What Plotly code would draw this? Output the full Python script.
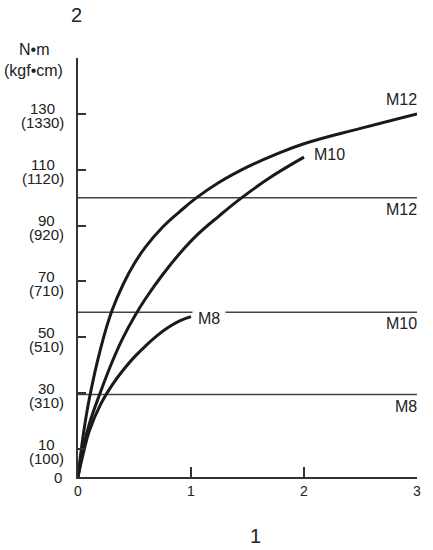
import plotly.graph_objects as go

# curves: x on axis "1", torque (N·m) on axis "2"
m12_x = [0, 0.05, 0.1, 0.2, 0.3, 0.4, 0.5, 0.6, 0.75, 0.9, 1.05, 1.25, 1.5, 1.75, 2.0, 2.5, 3.0]
m12_y = [0, 16, 28, 46, 59.5, 69, 76.5, 82.5, 89.5, 95, 100, 105.5, 111, 115.5, 119.3, 124.8, 130]

m10_x = [0, 0.05, 0.1, 0.2, 0.3, 0.4, 0.5, 0.6, 0.75, 0.9, 1.05, 1.25, 1.45, 1.7, 2.0]
m10_y = [0, 11, 19, 30.5, 41, 50, 57.5, 64, 72.5, 80, 86.5, 93.5, 100, 107.2, 114.5]

m8_x = [0, 0.05, 0.1, 0.2, 0.3, 0.4, 0.5, 0.6, 0.7, 0.8, 0.9, 1.0]
m8_y = [0, 9, 16.5, 26, 32.8, 38.3, 43, 47, 50.6, 53.6, 55.9, 57.4]

# horizontal limit lines
limit_names = ["M8", "M10", "M12"]
limit_vals = [29.5, 59, 100]

# y tick labels (N·m and kgf·cm)
ytick_nm = [10, 30, 50, 70, 90, 110, 130]
ytick_kgf = ["(100)", "(310)", "(510)", "(710)", "(920)", "(1120)", "(1330)"]
xtick_vals = [0, 1, 2, 3]

FONT = "Arial, 'Liberation Sans', sans-serif"
TXT = "#222222"
CURVE = "#1a1a1a"

fig = go.Figure()

# limit lines
for name, val in zip(limit_names, limit_vals):
    fig.add_trace(go.Scatter(
        x=[0, 3], y=[val, val], mode="lines",
        line=dict(color="#444444", width=1.5),
        hoverinfo="skip", showlegend=False
    ))

# torque curves
for xs, ys in [(m12_x, m12_y), (m10_x, m10_y), (m8_x, m8_y)]:
    fig.add_trace(go.Scatter(
        x=xs, y=ys, mode="lines",
        line=dict(color=CURVE, width=3, shape="spline", smoothing=1.2),
        hoverinfo="skip", showlegend=False
    ))

annotations = []

# y labels, two lines each, centred on each other
fs = 15
for v, kgf in zip(ytick_nm, ytick_kgf):
    w = fs * (0.666 + 0.556 * (len(kgf) - 2))
    cx = -(13.5 + w / 2)
    annotations.append(dict(x=0, y=v, xref="paper", yref="y", text=str(v),
                            showarrow=False, xanchor="center", yanchor="middle",
                            xshift=cx, yshift=5, font=dict(size=fs, color=TXT)))
    annotations.append(dict(x=0, y=v, xref="paper", yref="y", text=kgf,
                            showarrow=False, xanchor="center", yanchor="middle",
                            xshift=cx, yshift=-9, font=dict(size=fs, color=TXT)))
annotations.append(dict(x=0, y=0, xref="paper", yref="y", text="0",
                        showarrow=False, xanchor="right", yanchor="middle",
                        xshift=-14, yshift=0, font=dict(size=fs, color=TXT)))

# curve labels
annotations.append(dict(x=m12_x[-1], y=m12_y[-1], text="M12", showarrow=False,
                        xanchor="right", yanchor="middle", xshift=2, yshift=14,
                        font=dict(size=16, color=TXT)))
annotations.append(dict(x=m10_x[-1], y=m10_y[-1], text="M10", showarrow=False,
                        xanchor="left", yanchor="middle", xshift=8, yshift=3,
                        font=dict(size=16, color=TXT)))
annotations.append(dict(x=m8_x[-1], y=m8_y[-1], text="M8", showarrow=False,
                        xanchor="left", yanchor="middle", xshift=1, yshift=-2,
                        bgcolor="white", borderpad=5,
                        font=dict(size=16, color=TXT)))

# limit line labels
for name, val in zip(limit_names, limit_vals):
    annotations.append(dict(x=3, y=val, text=name, showarrow=False,
                            xanchor="right", yanchor="top", xshift=2, yshift=-1,
                            font=dict(size=16, color=TXT)))

# page-pixel placed texts: units and axis titles
L, R, T, B, W, H = 78, 12, 58, 73, 433, 550
pw, ph = W - L - R, H - T - B
for text, px, py, size in [("N•m", 33, 49, 16), ("(kgf•cm)", 33, 70.5, 16),
                           ("2", 76, 15, 20), ("1", 258, 536, 20)]:
    annotations.append(dict(x=(px - L) / pw, y=(H - B - py) / ph,
                            xref="paper", yref="paper", text=text,
                            showarrow=False, xanchor="center", yanchor="middle",
                            font=dict(size=size, color=TXT)))

fig.update_layout(
    width=W, height=H,
    margin=dict(l=L, r=R, t=T, b=B),
    plot_bgcolor="white",
    paper_bgcolor="white",
    font=dict(family=FONT, color=TXT),
    showlegend=False,
    annotations=annotations,
    xaxis=dict(
        range=[0, 3], showgrid=False, zeroline=False,
        showline=True, linecolor="#333333", linewidth=1.5,
        ticks="inside", ticklen=10, tickwidth=1.5, tickcolor="#333333",
        tickvals=xtick_vals, ticktext=[str(v) for v in xtick_vals],
        tickfont=dict(size=14, color=TXT),
    ),
    yaxis=dict(
        range=[0, 150], showgrid=False, zeroline=False,
        showline=True, linecolor="#333333", linewidth=1.5,
        ticks="inside", ticklen=8, tickwidth=1.5, tickcolor="#333333",
        tickvals=ytick_nm, showticklabels=False,
    ),
)

# drop the default 8px page margin so the figure sits at the window corner
fig.write_html("out.html", config={"displayModeBar": False},
               post_script="document.body.style.margin='0px';document.body.style.overflow='hidden';")
